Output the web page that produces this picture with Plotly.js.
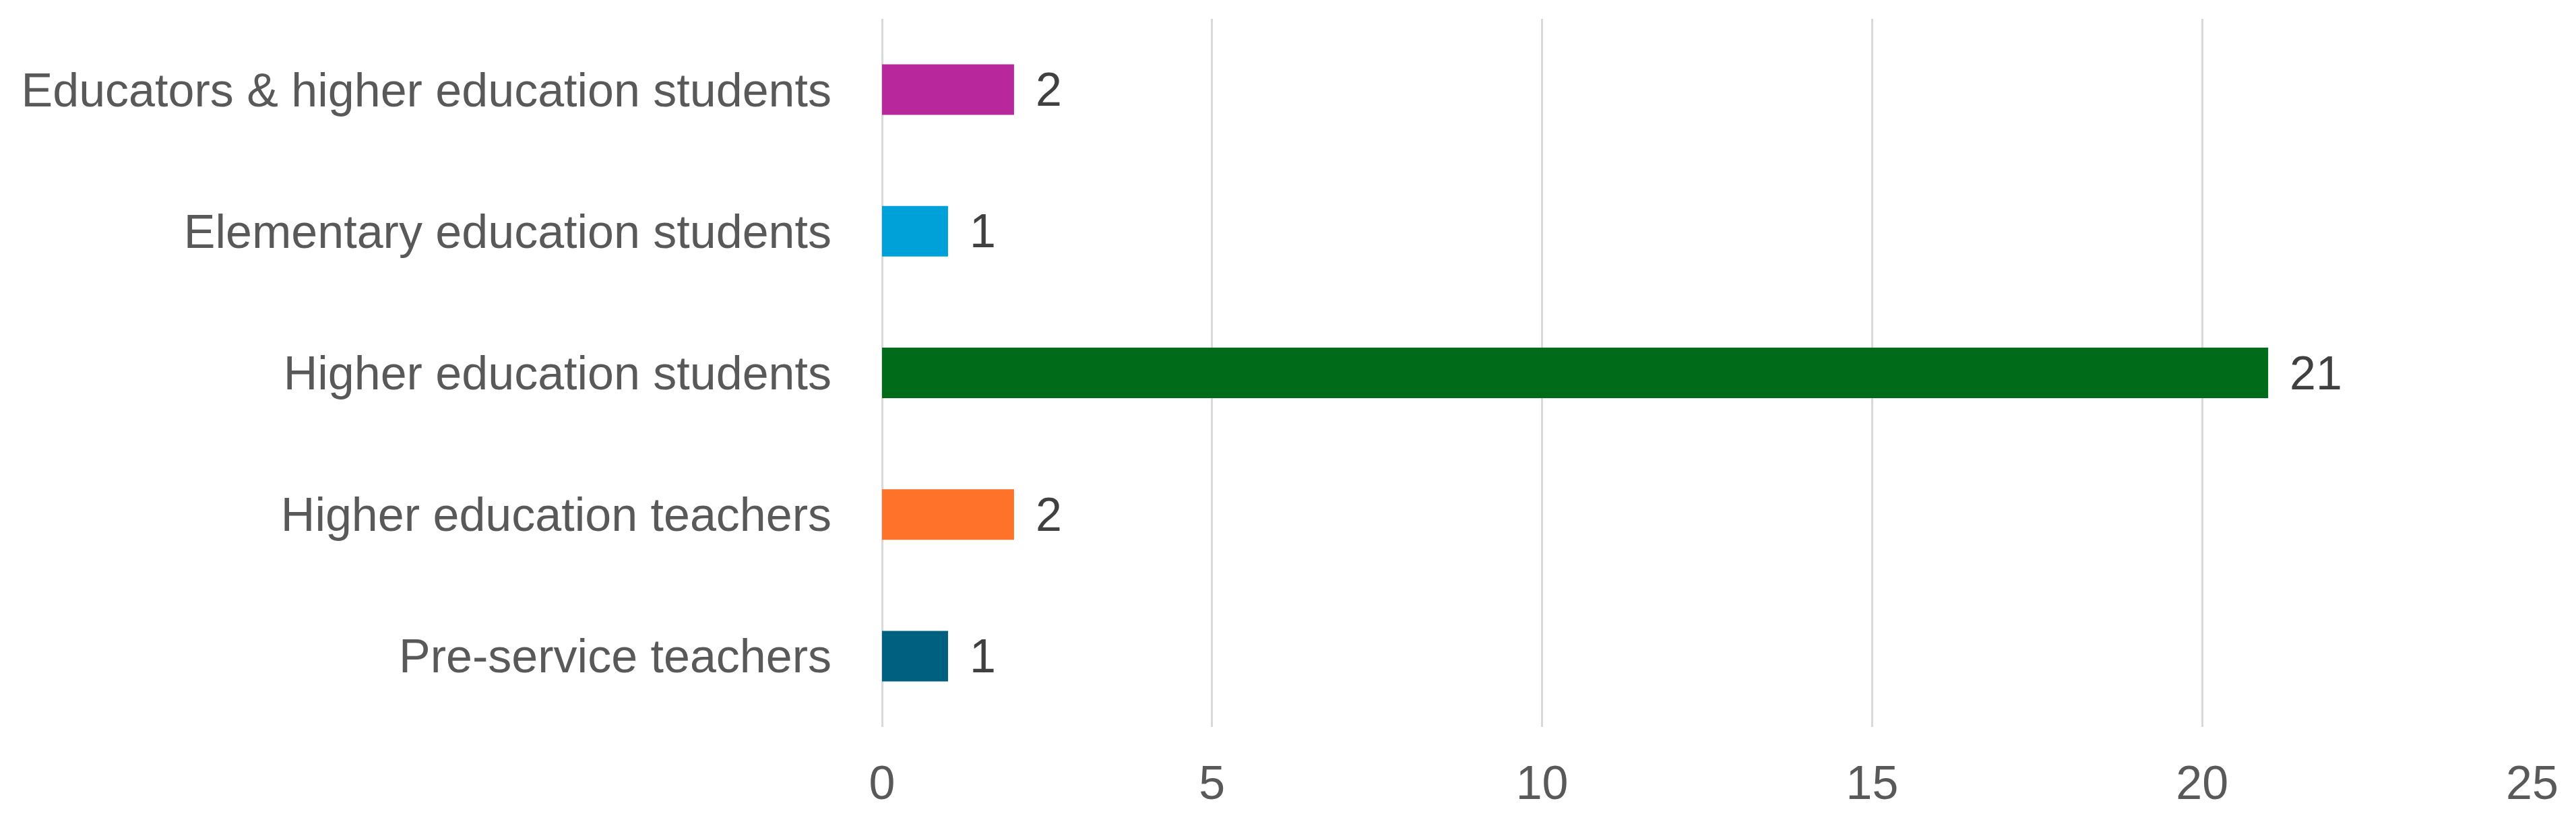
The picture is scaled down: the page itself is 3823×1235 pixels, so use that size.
<!DOCTYPE html>
<html>
<head>
<meta charset="utf-8">
<script src="https://cdn.plot.ly/plotly-3.0.1.min.js"></script>
<style>
html,body{margin:0;padding:0;background:#fff;}
#chart{width:3823px;height:1235px;}
</style>
</head>
<body>
<div id="chart"></div>
<script>
const categories = [
  "Pre-service teachers",
  "Higher education teachers",
  "Higher education students",
  "Elementary education students",
  "Educators & higher education students"
];
const values = [1, 2, 21, 1, 2];
const barColors = ["#00607F", "#FF7229", "#006B18", "#00A1D8", "#B8279B"];
const xTickValues = [0, 5, 10, 15, 20, 25];

const FONT = "Liberation Sans, Arial, sans-serif";

const trace = {
  type: "bar",
  orientation: "h",
  x: values,
  y: categories,
  marker: {color: barColors},
  hoverinfo: "none",
  cliponaxis: false
};

const annotations = values.map((v, i) => ({
  x: v, y: categories[i], xref: "x", yref: "y",
  text: String(v), showarrow: false, xanchor: "left", yanchor: "middle",
  xshift: 30, font: {family: FONT, size: 70, color: "#404040"}
}));

const layout = {
  width: 3823, height: 1235,
  margin: {l: 1309, r: 65, t: 28, b: 156},
  paper_bgcolor: "#ffffff", plot_bgcolor: "#ffffff",
  bargap: 0.643,
  showlegend: false,
  xaxis: {
    range: [0, 25],
    tickvals: xTickValues,
    ticktext: xTickValues.map(String),
    showgrid: true, gridcolor: "#D9D9D9", gridwidth: 3,
    zeroline: true, zerolinecolor: "#D9D9D9", zerolinewidth: 3,
    showline: false,
    ticks: "outside", ticklen: 22, tickcolor: "rgba(0,0,0,0)",
    tickfont: {family: FONT, size: 70, color: "#595959"},
    fixedrange: true
  },
  yaxis: {
    type: "category",
    categoryorder: "array", categoryarray: categories,
    range: [-0.5, 4.5],
    showgrid: false, zeroline: false, showline: false,
    ticks: "outside", ticklen: 60, tickcolor: "rgba(0,0,0,0)",
    tickfont: {family: FONT, size: 70, color: "#595959"},
    fixedrange: true
  },
  annotations: annotations
};

Plotly.newPlot("chart", [trace], layout, {displayModeBar: false, staticPlot: true});
</script>
</body>
</html>
